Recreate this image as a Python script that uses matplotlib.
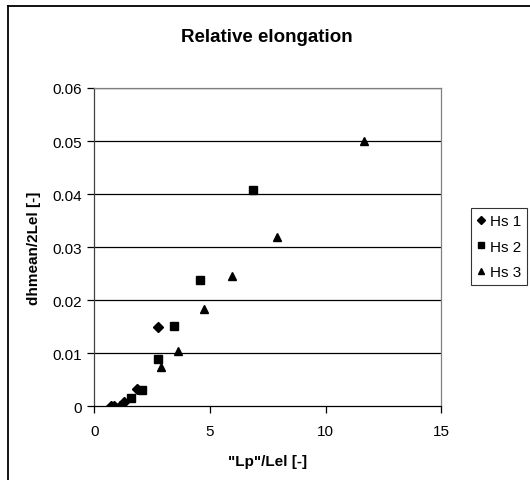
import numpy as np
import matplotlib.pyplot as plt
from matplotlib.lines import Line2D

plt.rcParams['font.family'] = ['Liberation Sans', 'DejaVu Sans']

# series
hs1_x = [0.7, 0.85, 1.1, 1.3, 1.85, 2.75]
hs1_y = [0.0, 0.0, 0.0, 0.0008, 0.0033, 0.015]
hs2_x = [1.6, 2.05, 2.75, 3.45, 4.55, 6.85]
hs2_y = [0.0016, 0.0031, 0.0089, 0.0151, 0.0239, 0.0408]
hs3_x = [2.9, 3.6, 4.75, 5.95, 7.9, 11.65]
hs3_y = [0.0074, 0.0104, 0.0183, 0.0246, 0.032, 0.0501]
labels = ['Hs 1', 'Hs 2', 'Hs 3']

x_ticks = [0, 5, 10, 15]
y_ticks = [0, 0.01, 0.02, 0.03, 0.04, 0.05, 0.06]
y_tick_labels = ['0', '0.01', '0.02', '0.03', '0.04', '0.05', '0.06']

fig = plt.figure(figsize=(5.30, 4.81), dpi=100)
ax = fig.add_axes([0.178, 0.153, 0.655, 0.662])

# outer chart border (only left and top are visible in the picture)
fig.add_artist(Line2D([0.0142, 0.0142], [0.0, 0.9855], color='black', lw=1.3,
                      transform=fig.transFigure))
fig.add_artist(Line2D([0.0142, 1.0], [0.9855, 0.9855], color='black', lw=1.3,
                      transform=fig.transFigure))

for yy in y_ticks[1:]:
    ax.axhline(yy, color='black', lw=0.9, zorder=1)

ax.plot(hs1_x, hs1_y, 'D', color='black', markersize=5.5, label=labels[0],
        linestyle='none', zorder=3)
ax.plot(hs2_x, hs2_y, 's', color='black', markersize=5.2, label=labels[1],
        linestyle='none', zorder=3)
ax.plot(hs3_x, hs3_y, '^', color='black', markersize=6.3, label=labels[2],
        linestyle='none', zorder=3)

ax.set_xlim(0, 15)
ax.set_ylim(0, 0.06)
ax.set_xticks(x_ticks)
ax.set_yticks(y_ticks)
ax.set_yticklabels(y_tick_labels)
ax.tick_params(axis='both', direction='out', length=5, width=0.9,
               labelsize=11, colors='black')
ax.tick_params(axis='x', pad=8)
ax.tick_params(axis='y', pad=4)

ax.spines['top'].set_color('#808080')
ax.spines['right'].set_color('#808080')
ax.spines['left'].set_color('#404040')
ax.spines['bottom'].set_color('black')
for s in ax.spines.values():
    s.set_linewidth(0.9)

ax.set_xlabel('"Lp"/Lel [-]', fontsize=11, fontweight='bold', labelpad=11)
ax.set_ylabel('dhmean/2Lel [-]', fontsize=11, fontweight='bold', labelpad=8)
fig.text(0.503, 0.923, 'Relative elongation', ha='center', va='center',
         fontsize=13.5, fontweight='bold')

leg = ax.legend(loc='upper left', bbox_to_anchor=(0.889, 0.5655),
                bbox_transform=fig.transFigure, frameon=True, fancybox=False,
                edgecolor='black', fontsize=11, handlelength=0.5,
                handletextpad=0.3, labelspacing=0.75, borderpad=0.4,
                borderaxespad=0, markerscale=0.75)
leg.get_frame().set_linewidth(0.8)

fig.savefig('out.png', dpi=100)
